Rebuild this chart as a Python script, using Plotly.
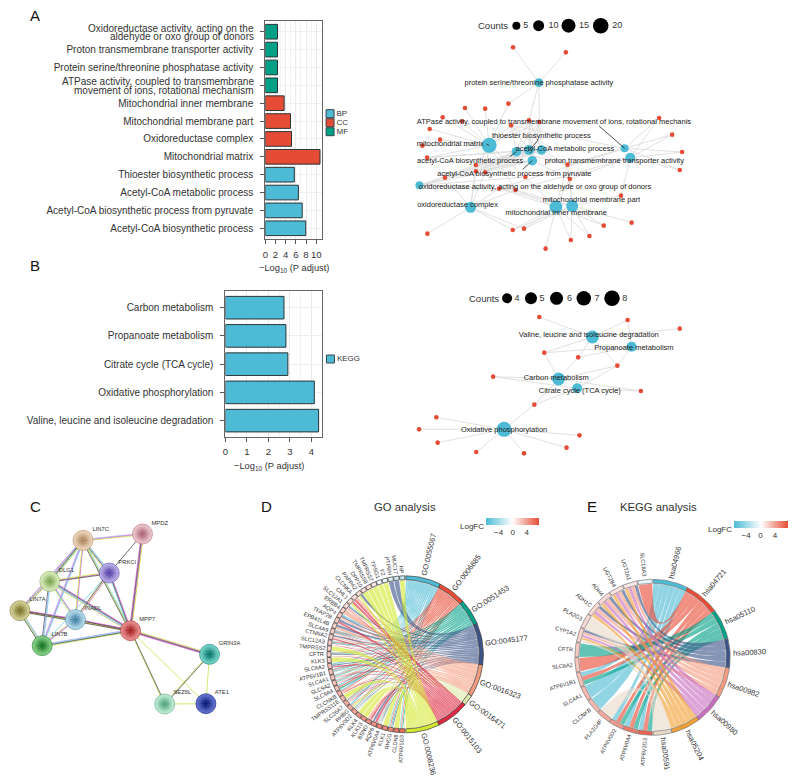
import math
import plotly.graph_objects as go

W, H = 793, 779
FONT = "Liberation Sans"
TXT = "#333333"

# ---------- Panel A bars ----------
go_terms = ["Acetyl-CoA biosynthetic process", "Acetyl-CoA biosynthetic process from pyruvate",
            "Acetyl-CoA metabolic process", "Thioester biosynthetic process", "Mitochondrial matrix",
            "Oxidoreductase complex", "Mitochondrial membrane part", "Mitochondrial inner membrane",
            "ATPase activity, coupled to transmembrane|movement of ions, rotational mechanism",
            "Protein serine/threonine phosphatase activity", "Proton transmembrane transporter activity",
            "Oxidoreductase activity, acting on the|aldehyde or oxo group of donors"]
go_values = [7.95, 7.25, 6.5, 5.7, 10.75, 5.15, 4.95, 3.7, 2.4, 2.4, 2.4, 2.4]
go_class = ["BP", "BP", "BP", "BP", "CC", "CC", "CC", "CC", "MF", "MF", "MF", "MF"]
class_names = ["BP", "CC", "MF"]
# ---------- Panel B bars ----------
kegg_terms = ["Valine, leucine and isoleucine degradation", "Oxidative phosphorylation",
              "Citrate cycle (TCA cycle)", "Propanoate metabolism", "Carbon metabolism"]
kegg_values = [4.33, 4.13, 2.9, 2.81, 2.72]

# ---------- Network A (layout, 3x crop coordinates) ----------
neta_hubs = [(414, 248), (264, 436), (346, 455), (384, 450), (422, 450), (394, 482),
             (672, 445), (689, 473), (54, 556), (208, 622), (465, 621), (514, 618)]
neta_hub_size = [8.7, 15, 9.5, 10, 9.5, 9.5, 8, 10, 8, 11, 13, 12]
neta_genes = [(336, 142), (495, 157), (322, 311), (191, 324), (252, 326), (124, 352), (182, 364), (330, 376),
              (384, 361), (415, 366), (85, 387), (116, 419), (63, 437), (77, 473), (224, 495), (252, 517),
              (224, 514), (131, 533), (294, 566), (343, 570), (373, 531), (500, 494), (507, 537), (661, 587),
              (776, 354), (815, 404), (845, 456), (838, 510), (78, 701), (335, 690), (369, 686), (434, 746),
              (510, 720), (566, 708), (609, 677), (693, 668)]
neta_links = [[0, 1, 2, 9, 8],
              [3, 4, 5, 6, 7, 8, 9, 10, 11, 12, 13, 14, 15, 16, 2, 20, 19],
              [8, 9, 7, 14, 15, 16, 17, 21],
              [8, 9, 7, 14, 15, 16, 17, 21, 13],
              [8, 9, 7, 14, 15, 16, 17, 21, 13],
              [8, 9, 14, 15, 16, 17, 22],
              [24, 25, 26, 27, 21, 18, 7],
              [24, 25, 26, 27, 21, 23, 19, 22],
              [17, 14, 15, 16, 18, 19, 20],
              [28, 29, 30, 18, 19, 17, 16, 15, 14],
              [29, 30, 31, 32, 33, 34, 21, 22, 18, 19, 20],
              [29, 30, 32, 33, 34, 35, 21, 22, 23, 18, 19]]
neta_labels = ["protein serine/threonine phosphatase activity",
               "ATPase activity, coupled to transmembrane movement of ions, rotational mechanis",
               "thioester biosynthetic process", "mitochondrial matrix", "acetyl-CoA metabolic process",
               "acetyl-CoA biosynthetic process", "proton transmembrane transporter activity",
               "acetyl-CoA biosynthetic process from pyruvate",
               "oxidoreductase activity, acting on the aldehyde or oxo group of donors",
               "oxidoreductase complex", "mitochondrial membrane part", "mitochondrial inner membrane"]
neta_label_xy = [(414, 248), (459, 365), (421, 408), (147, 431), (492, 446), (207, 484), (641, 484),
                 (340, 522), (402, 560), (169, 616), (572, 601), (466, 640)]
neta_leaders = [((595, 378), (672, 445)), ((256, 432), (264, 436)), ((327, 470), (346, 455)),
                ((365, 508), (394, 482)), ((412, 420), (380, 455))]
neta_count_vals = ["5", "10", "15", "20"]
neta_count_xy = [(346, 77), (413, 77), (503, 77), (600, 77)]
neta_count_size = [8, 11, 14, 15.5]
neta_count_txt_x = [374, 458, 550, 650]

# ---------- Network B ----------
netb_hubs = [(575, 171), (693, 200), (473, 297), (529, 325), (309, 448)]
netb_hub_size = [13, 10, 13, 10, 15]
netb_genes = [(415, 111), (681, 120), (838, 146), (430, 218), (532, 232), (650, 257), (276, 290), (721, 333),
              (400, 374), (105, 412), (53, 448), (109, 488), (225, 516), (369, 520), (497, 503), (536, 466)]
netb_links = [[0, 1, 2, 3, 4, 5], [1, 3, 4, 5], [3, 4, 5, 6, 7, 8], [5, 6, 7, 8],
              [8, 9, 10, 11, 12, 13, 14, 15]]
netb_labels = ["Valine, leucine and isoleucine degradation", "Propanoate metabolism", "Carbon metabolism",
               "Citrate cycle (TCA cycle)", "Oxidative phosphorylation"]
netb_label_xy = [(564, 166), (700, 204), (466, 293), (537, 332), (309, 449)]
netb_count_vals = ["4", "5", "6", "7", "8"]
netb_count_xy = [(318, 55), (390, 55), (467, 55), (549, 55), (634, 55)]
netb_count_size = [10, 12, 13, 14.5, 15.5]
netb_count_txt_x = [348, 423, 506, 589, 672]

# ---------- Panel C protein network ----------
ppi_names = ["LIN7C", "MPDZ", "PRKCI", "DLG1", "LIN7A", "INADL", "MPP7", "LIN7B", "GRIN3A", "SEZ6L", "ATE1"]
ppi_xy = [(241, 151), (420, 132), (320, 249), (141, 274), (51, 362), (218, 389), (384, 422), (118, 467),
          (622, 493), (487, 642), (611, 641)]
ppi_light = ["#f2dcc4", "#f2d0d6", "#c4b8ee", "#e2f2c4", "#dcd8a0", "#c0e2f2", "#f09a9a", "#90d890",
             "#80dcd0", "#c8f2dc", "#6a7ad8"]
ppi_dark = ["#b08a60", "#b06a78", "#5a4aa8", "#80a858", "#807830", "#4a88a8", "#a82828", "#1f7a28",
            "#107a72", "#58a880", "#101f78"]
ppi_label_xy = [(294, 118), (472, 101), (374, 217), (191, 242), (104, 330), (271, 357), (434, 390), (170, 435),
                (682, 461), (540, 609), (659, 608)]
ppi_edges = [("LIN7C", "MPDZ", "bmy"), ("MPDZ", "PRKCI", "k"), ("MPDZ", "MPP7", "ymkm"), ("LIN7C", "PRKCI", "cbky"),
             ("LIN7C", "DLG1", "yckmb"), ("LIN7C", "LIN7A", "ycm"), ("LIN7C", "LIN7B", "cmb"), ("LIN7C", "INADL", "my"),
             ("LIN7C", "MPP7", "cyk"), ("DLG1", "PRKCI", "ymk"), ("DLG1", "LIN7A", "ybm"), ("DLG1", "INADL", "mcy"),
             ("DLG1", "LIN7B", "cbk"), ("DLG1", "MPP7", "mkcby"), ("PRKCI", "INADL", "myk"), ("PRKCI", "MPP7", "mkc"),
             ("INADL", "LIN7B", "bmy"), ("INADL", "MPP7", "mky"), ("LIN7A", "LIN7B", "bcyk"), ("LIN7A", "INADL", "mky"),
             ("LIN7A", "MPP7", "myk"), ("LIN7B", "MPP7", "bcky"), ("LIN7B", "PRKCI", "c"), ("MPP7", "GRIN3A", "ymkm"),
             ("MPP7", "SEZ6L", "ky"), ("MPP7", "ATE1", "y"), ("GRIN3A", "SEZ6L", "ky"), ("GRIN3A", "ATE1", "y"),
             ("SEZ6L", "ATE1", "y")]
ppi_channel = {"m": "#d848d8", "c": "#60d0e0", "y": "#c4e040", "k": "#444444", "b": "#a8a8f0"}

# ---------- Panel D GO chord ----------
d_terms = ["GO:0055067", "GO:0006885", "GO:0051453", "GO:0045177", "GO:0016323", "GO:0016471", "GO:0015103", "GO:0008236"]
d_term_edges = [0.5, 26.7, 47.4, 67, 97.8, 122, 130, 154.4, 179.5]
d_term_colors = ["#4DBBD5", "#E64B35", "#00A087", "#3C5488", "#F39B7F", "#DCE8A8", "#DC2840", "#D4E830"]
d_genes = ["ATP6V1G3", "CLDN8", "RHCG", "KLK1", "ATP6V0A4", "AQP6", "BSND", "KLK13", "KLK4", "ATP6V0D2", "RHBG",
           "SLC26A7", "TMPRSS11E", "CLCNKB", "SLC9A4", "SLC9A2", "SLC4A1", "ATP6V1B1", "SLC6A2", "KLK3", "CFTR",
           "TMPRSS2", "SLC12A3", "CTNNA2", "SLC4A9", "EPB41L4B", "TFAP2B", "AQP4", "ERBB4", "SLC12A1", "CHL1",
           "CLCNKA", "PAPPA2", "DPP10", "TMPRSS8", "TMPRSS7", "TPSG1", "F2", "PTPRH", "MUC17", "HP"]
d_logfc = [6, 5.5, 5, 5, 5, 4.5, 4.5, 4.5, 4.5, 4, 3.5, 3.5, 3, 3, 2.5, 2.5, 2.5, 2.5, 2.5, 2, 2, 2, 2, 2, 2, 2, 2, 2, 2,
           1.5, 1.5, 1.5, 1.5, 1.5, 1.5, 1, -0.5, -1, -1.5, -2, -2.5]
d_members = [
    ["SLC4A1", "SLC9A2", "SLC9A4", "SLC26A7", "ATP6V1B1", "ATP6V0D2", "ATP6V0A4", "ATP6V1G3", "SLC12A3", "SLC4A9",
     "SLC12A1", "CFTR", "AQP4", "RHCG", "RHBG", "CLCNKB", "SLC6A2"],
    ["SLC4A1", "SLC9A2", "SLC9A4", "SLC26A7", "ATP6V1B1", "ATP6V0D2", "ATP6V0A4", "ATP6V1G3", "SLC4A9", "CFTR", "RHCG",
     "SLC12A3", "CLCNKB"],
    ["SLC4A1", "SLC9A2", "SLC9A4", "SLC26A7", "ATP6V1B1", "ATP6V0D2", "ATP6V0A4", "ATP6V1G3", "SLC4A9", "CFTR", "RHCG",
     "SLC12A3"],
    ["MUC17", "PTPRH", "CFTR", "SLC12A3", "SLC12A1", "AQP4", "CTNNA2", "EPB41L4B", "TFAP2B", "ATP6V1B1", "SLC6A2",
     "SLC9A2", "SLC4A9", "PAPPA2", "SLC26A7", "ATP6V0A4", "ATP6V0D2", "RHCG", "AQP6"],
    ["ERBB4", "AQP4", "SLC4A9", "EPB41L4B", "SLC26A7", "RHBG", "CFTR", "CLCNKA", "CLCNKB", "BSND", "SLC4A1", "SLC12A1",
     "CTNNA2", "SLC9A2", "SLC12A3"],
    ["ATP6V1B1", "ATP6V0D2", "ATP6V0A4", "ATP6V1G3"],
    ["CLCNKA", "CLCNKB", "SLC12A1", "SLC12A3", "SLC4A1", "SLC26A7", "SLC4A9", "BSND", "CFTR", "AQP6", "CHL1", "SLC6A2",
     "SLC9A2", "TFAP2B", "CTNNA2"],
    ["HP", "F2", "TPSG1", "TMPRSS7", "TMPRSS8", "DPP10", "PAPPA2", "KLK1", "KLK3", "KLK4", "KLK13", "TMPRSS2",
     "TMPRSS11E", "CLDN8", "RHBG", "CHL1"],
]

# ---------- Panel E KEGG chord ----------
e_terms = ["hsa04966", "hsa04721", "hsa05110", "hsa00830", "hsa00982", "hsa00980", "hsa05204", "hsa00591"]
e_term_edges = [0.5, 26.7, 53.2, 76, 98, 120.7, 143.5, 165.5, 179.5]
e_term_colors = ["#4DBBD5", "#E64B35", "#00A087", "#3C5488", "#F39B7F", "#C86CC0", "#F0A030", "#E8D8C8"]
e_genes = ["ATP6V1G3", "ATP6V0A4", "ATP6V0D2", "PLA2G4F", "CLCNKB", "SLC4A1", "ATP6V1B1", "SLC6A2", "CFTR", "CYP1A2",
           "PLA2G3", "ADH1C", "ADH4", "UGT2B4", "UGT2A1", "SLC18A3"]
e_logfc = [6.5, 5.5, 4.2, 3.6, 3, 3, 2.6, 2.4, 2.2, 1.8, 1.6, 1.6, 1.6, 1.2, 1, -1]
e_members = [
    ["ATP6V1G3", "ATP6V0A4", "ATP6V0D2", "ATP6V1B1", "SLC4A1", "CLCNKB"],
    ["ATP6V1G3", "ATP6V0A4", "ATP6V0D2", "ATP6V1B1", "SLC6A2", "SLC18A3"],
    ["ATP6V1G3", "ATP6V0A4", "ATP6V0D2", "ATP6V1B1", "CFTR"],
    ["CYP1A2", "ADH1C", "ADH4", "UGT2B4", "UGT2A1"],
    ["CYP1A2", "ADH1C", "ADH4", "UGT2B4", "UGT2A1"],
    ["CYP1A2", "ADH1C", "ADH4", "UGT2B4", "UGT2A1"],
    ["CYP1A2", "ADH1C", "ADH4", "UGT2B4", "UGT2A1"],
    ["CYP1A2", "PLA2G3", "PLA2G4F"],
]

# ---------- figure ----------
fig = go.Figure()
OV = dict(xaxis="x3", yaxis="y3")


def pxa(p):
    return 400 + p[0] / 3, p[1] / 3


def pxb(p):
    return 400 + p[0] / 3, 280 + p[1] / 3


def pxc(p):
    return p[0] / 3, 490 + p[1] / 3


def dom_x(a, b):
    return [a / W, b / W]


def dom_y(top, bottom):
    return [1 - bottom / H, 1 - top / H]


# bars
class_color = {"BP": "#4DBBD5", "CC": "#E64B35", "MF": "#00A087"}
fig.add_trace(go.Bar(x=go_values, y=go_terms, orientation="h", width=0.82,
                     marker=dict(color=[class_color[c] for c in go_class], line=dict(color="#2c3438", width=1)),
                     xaxis="x", yaxis="y"))
fig.add_trace(go.Bar(x=kegg_values, y=kegg_terms, orientation="h", width=0.8,
                     marker=dict(color="#4DBBD5", line=dict(color="#2c3438", width=1)),
                     xaxis="x2", yaxis="y2"))


def bar_axes(xdom, ydom, xr, yr, dt, mdt, cats, standoff):
    xa = dict(domain=xdom, range=xr, dtick=dt, tick0=0, showgrid=True, gridcolor="#e9e9e9", gridwidth=1,
              minor=dict(dtick=mdt, showgrid=True, gridcolor="#f3f3f3", gridwidth=0.7),
              showline=True, mirror=True, linecolor="#666666", linewidth=1.2, ticks="outside", ticklen=4,
              tickcolor="#555555", tickwidth=0.8, tickfont=dict(size=9.5, color=TXT, family=FONT),
              ticklabelstandoff=standoff, zeroline=False)
    ya = dict(domain=ydom, range=yr, type="category", categoryorder="array", categoryarray=cats, showgrid=True,
              gridcolor="#efefef", showline=True, mirror=True, linecolor="#666666", linewidth=1.2, ticks="outside",
              ticklen=4, tickcolor="#555555", tickwidth=0.8, tickfont=dict(size=10, color=TXT, family=FONT),
              tickmode="array", tickvals=cats, ticktext=[c if "|" not in c else " " for c in cats],
              ticklabelstandoff=5, zeroline=False)
    return xa, ya


xa1, ya1 = bar_axes(dom_x(263.3, 320), dom_y(21, 239), [0, 11.1], [-0.6, 11.6], 2, 1, go_terms, 2)
xa2, ya2 = bar_axes(dom_x(223.3, 320.7), dom_y(291.3, 437), [0, 4.51], [-0.58, 4.58], 1, 0.5, kegg_terms, 1)
ya2["anchor"] = "x2"
xa2["anchor"] = "y2"

ann = []


def note(x, y, s, size=8, color=TXT, angle=0, anchor="center"):
    ann.append(dict(x=x, y=y, xref="x3", yref="y3", text=s, showarrow=False, textangle=angle,
                    font=dict(size=size, color=color, family=FONT), xanchor=anchor, yanchor="middle"))


# two-line category labels are set with the tight leading of the reference
for term, ys in [(go_terms[11], (28, 36.7)), (go_terms[8], (81.7, 90.3))]:
    for line, y in zip(term.split("|"), ys):
        note(254.2, y, line, 10, TXT, 0, "right")

note(291.7, 268, "−Log<sub>10</sub> (P adjust)", 9.3)
note(266.7, 466.7, "−Log<sub>10</sub> (P adjust)", 9.3)

# bar legends
for names, xs, ys, colors in [(class_names, [328.3] * 3, [113.7, 122.7, 131.7], [class_color[c] for c in class_names]),
                              (["KEGG"], [328.7], [359], ["#4DBBD5"])]:
    fig.add_trace(go.Scatter(x=xs, y=ys, mode="markers", marker=dict(symbol="square", size=8, color=colors, opacity=1,
                             line=dict(color="#3a4448", width=1)), **OV))
    fig.add_trace(go.Scatter(x=[x + 6.5 for x in xs], y=ys, mode="text", text=names, textposition="middle right",
                             textfont=dict(size=8, color=TXT, family=FONT), **OV))


def network(hubs, hub_size, genes, links, labels, label_xy, to_px, leaders, cnt_xy, cnt_size, cnt_vals, cnt_tx, cnt_label_x):
    ex, ey = [], []
    for h, ls in zip(hubs, links):
        a = to_px(h)
        for i in ls:
            b = to_px(genes[i])
            ex += [a[0], b[0], None]
            ey += [a[1], b[1], None]
    fig.add_trace(go.Scatter(x=ex, y=ey, mode="lines", line=dict(color="#dddddd", width=0.9), **OV))
    hp = [to_px(p) for p in hubs]
    gp = [to_px(p) for p in genes]
    fig.add_trace(go.Scatter(x=[p[0] for p in gp], y=[p[1] for p in gp], mode="markers",
                             marker=dict(size=4.6, color="#E64B35", opacity=1, line=dict(width=0)), **OV))
    fig.add_trace(go.Scatter(x=[p[0] for p in hp], y=[p[1] for p in hp], mode="markers",
                             marker=dict(size=hub_size, color="#4DBBD5", opacity=1, line=dict(width=0)), **OV))
    lx, ly = [], []
    for a, b in leaders:
        pa, pb = to_px(a), to_px(b)
        lx += [pa[0], pb[0], None]
        ly += [pa[1], pb[1], None]
    if lx:
        fig.add_trace(go.Scatter(x=lx, y=ly, mode="lines", line=dict(color="#222222", width=0.8), **OV))
    lp = [to_px(p) for p in label_xy]
    fig.add_trace(go.Scatter(x=[p[0] for p in lp], y=[p[1] for p in lp], mode="text", text=labels,
                             textposition="middle center", textfont=dict(size=7.5, color="#222222", family=FONT), **OV))
    cp = [to_px(p) for p in cnt_xy]
    fig.add_trace(go.Scatter(x=[p[0] for p in cp], y=[p[1] for p in cp], mode="markers",
                             marker=dict(size=cnt_size, color="#000000", opacity=1, line=dict(width=0)), **OV))
    ct = [to_px((x, cnt_xy[0][1])) for x in cnt_tx]
    fig.add_trace(go.Scatter(x=[p[0] for p in ct], y=[p[1] for p in ct], mode="text", text=cnt_vals,
                             textposition="middle center", textfont=dict(size=9, color=TXT, family=FONT), **OV))
    px = to_px((cnt_label_x, cnt_xy[0][1]))
    note(px[0], px[1], "Counts", 9.5)


network(neta_hubs, neta_hub_size, neta_genes, neta_links, neta_labels, neta_label_xy, pxa, neta_leaders,
        neta_count_xy, neta_count_size, neta_count_vals, neta_count_txt_x, 276)
network(netb_hubs, netb_hub_size, netb_genes, netb_links, netb_labels, netb_label_xy, pxb, [],
        netb_count_xy, netb_count_size, netb_count_vals, netb_count_txt_x, 247)

# protein network
pos = {n: pxc(p) for n, p in zip(ppi_names, ppi_xy)}
chan_seg = {k: ([], []) for k in ppi_channel}
SP = 0.75
for a, b, chans in ppi_edges:
    (x0, y0), (x1, y1) = pos[a], pos[b]
    L = math.hypot(x1 - x0, y1 - y0)
    nx, ny = -(y1 - y0) / L, (x1 - x0) / L
    for k, c in enumerate(chans):
        off = (k - (len(chans) - 1) / 2) * SP
        chan_seg[c][0].extend([x0 + nx * off, x1 + nx * off, None])
        chan_seg[c][1].extend([y0 + ny * off, y1 + ny * off, None])
for c, (xs, ys) in chan_seg.items():
    fig.add_trace(go.Scatter(x=xs, y=ys, mode="lines", line=dict(color=ppi_channel[c], width=0.75), **OV))
for n, lc, dc in zip(ppi_names, ppi_light, ppi_dark):
    fig.add_trace(go.Scatter(x=[pos[n][0]], y=[pos[n][1]], mode="markers",
                             marker=dict(size=20, color=lc, gradient=dict(type="radial", color=dc),
                                         line=dict(color=dc, width=0.6)), **OV))
    fig.add_trace(go.Scatter(x=[pos[n][0]], y=[pos[n][1]], mode="markers",
                             marker=dict(size=8, symbol="asterisk-open", color=dc, line=dict(color=dc, width=0.8)), **OV))
lp = [pxc(p) for p in ppi_label_xy]
fig.add_trace(go.Scatter(x=[p[0] for p in lp], y=[p[1] for p in lp], mode="text", text=ppi_names,
                         textposition="middle center", textfont=dict(size=5.8, color="#333333", family=FONT), **OV))


# chords
def text_w(s, size):
    w = 0
    for ch in s:
        if ch.isupper():
            w += 0.68
        elif ch.isdigit():
            w += 0.556
        elif ch == ":":
            w += 0.278
        else:
            w += 0.5
    return w * size


def polar(cx, cy, r, deg):
    t = math.radians(deg)
    return cx + r * math.sin(t), cy - r * math.cos(t)


def hexrgb(h):
    h = h.lstrip("#")
    return [int(h[i:i + 2], 16) for i in (0, 2, 4)]


LOW, MID, HIGH = hexrgb("#4DBBD5"), hexrgb("#FFFFFF"), hexrgb("#E64B35")


def fc_color(v, vmax=7.5):
    t = max(-1, min(1, v / vmax))
    end = HIGH if t > 0 else LOW
    a = abs(t)
    return "rgb(%d,%d,%d)" % tuple(round(MID[i] + (end[i] - MID[i]) * a) for i in range(3))


def arc(cx, cy, r, a, b, n=10):
    return [polar(cx, cy, r, a + (b - a) * i / n) for i in range(n + 1)]


def ring(cx, cy, r0, r1, a, b, color, line):
    pts = arc(cx, cy, r1, a, b) + arc(cx, cy, r0, b, a)
    pts.append(pts[0])
    fig.add_trace(go.Scatter(x=[p[0] for p in pts], y=[p[1] for p in pts], mode="lines", fill="toself",
                             fillcolor=color, line=dict(color=line, width=0.7), **OV))


def bez(p0, c, p1, n=24):
    out = []
    for i in range(1, n):
        t = i / n
        out.append(((1 - t) ** 2 * p0[0] + 2 * t * (1 - t) * c[0] + t ** 2 * p1[0],
                    (1 - t) ** 2 * p0[1] + 2 * t * (1 - t) * c[1] + t ** 2 * p1[1]))
    return out


def chord(cx, cy, R, terms, edges, tcolors, genes, logfc, members, cax, alpha, ringline):
    Ri = R - 4
    n = len(genes)
    gw = 180 / n
    gspan = {g: (180 + i * gw, 180 + (i + 1) * gw) for i, g in enumerate(genes)}
    links_per_gene = {g: [] for g in genes}
    for ti, m in enumerate(members):
        for g in m:
            links_per_gene[g].append(ti)
    for ti, (term, m) in enumerate(zip(terms, members)):
        a0, a1 = edges[ti], edges[ti + 1]
        w = (a1 - a0) / len(m)
        ordered = sorted(m, key=lambda g: -genes.index(g))
        rgb = hexrgb(tcolors[ti])
        fill = "rgba(%d,%d,%d,%.2f)" % (rgb[0], rgb[1], rgb[2], alpha)
        for k, g in enumerate(ordered):
            ta, tb = a0 + k * w + 0.03, a0 + (k + 1) * w - 0.03
            ls = sorted(links_per_gene[g], reverse=True)
            sw = (gspan[g][1] - gspan[g][0] - 0.5) / len(ls)
            j = ls.index(ti)
            ga = gspan[g][0] + 0.25 + j * sw + 0.03
            gb = ga + sw - 0.06
            c = (cx, cy)
            A = arc(cx, cy, Ri - 0.6, ta, tb, 4)
            B = arc(cx, cy, Ri - 0.6, ga, gb, 4)
            pts = A + bez(A[-1], c, B[0]) + B + bez(B[-1], c, A[0])
            pts.append(pts[0])
            fig.add_trace(go.Scatter(x=[p[0] for p in pts], y=[p[1] for p in pts], mode="lines", fill="toself",
                                     fillcolor=fill, line=dict(width=0), **OV))
    for ti, term in enumerate(terms):
        a0, a1 = edges[ti], edges[ti + 1]
        ring(cx, cy, Ri, R, a0, a1, tcolors[ti], ringline)
        mid = (a0 + a1) / 2
        tw = text_w(term, 7.5)
        p = polar(cx, cy, R + 3 + tw / 2, mid)
        note(p[0], p[1], term, 7.5, "#333333", mid - 90)
    for g, v in zip(genes, logfc):
        a, b = gspan[g]
        ring(cx, cy, Ri, R, a + 0.25, b - 0.25, fc_color(v), ringline)
        mid = (a + b) / 2
        tw = text_w(g, 5.6)
        p = polar(cx, cy, R + 2.5 + tw / 2, mid)
        note(p[0], p[1], g, 5.6, "#333333", mid - 270)
    # invisible carrier of the LogFC colour bar
    mids = [polar(cx, cy, R - 2, (gspan[g][0] + gspan[g][1]) / 2) for g in genes]
    fig.add_trace(go.Scatter(x=[p[0] for p in mids], y=[p[1] for p in mids], mode="markers",
                             marker=dict(size=1, color=logfc, coloraxis=cax), **OV))


chord(403.7, 654.3, 78.5, d_terms, d_term_edges, d_term_colors, d_genes, d_logfc, d_members, "coloraxis", 0.62, "#3a3a3a")
chord(652, 657.3, 78, e_terms, e_term_edges, e_term_colors, e_genes, e_logfc, e_members, "coloraxis2", 0.62, "#777777")

note(403.3, 506.7, "GO analysis", 11.3)
note(657.7, 506.7, "KEGG analysis", 11.3)
note(470.5, 526.7, "LogFC", 8)
note(719.5, 529, "LogFC", 8)
for s, x, y in [("A", 32, 15), ("B", 32, 265), ("C", 32.3, 506), ("D", 264, 506.7), ("E", 591, 506.7)]:
    note(x, y, s, 15, "#111111")


def cb(x0, x1, y0):
    return dict(orientation="h", x=x0 / W, xanchor="left", y=1 - y0 / H, yanchor="top", thickness=7,
                thicknessmode="pixels", len=x1 - x0, lenmode="pixels", xpad=0, ypad=0, outlinewidth=0,
                tickvals=[-4, 0, 4], ticktext=["−4", "0", "4"], ticks="", tickfont=dict(size=8, color=TXT, family=FONT))


scale = [[0, "#4DBBD5"], [0.5, "#FFFFFF"], [1, "#E64B35"]]
fig.update_layout(
    width=W, height=H, margin=dict(l=0, r=0, t=0, b=0), paper_bgcolor="white", plot_bgcolor="rgba(0,0,0,0)",
    showlegend=False, barmode="overlay", font=dict(family=FONT, color=TXT), annotations=ann,
    xaxis=xa1, yaxis=ya1, xaxis2=xa2, yaxis2=ya2,
    xaxis3=dict(domain=[0, 1], range=[0, W], visible=False, anchor="y3", fixedrange=True),
    yaxis3=dict(domain=[0, 1], range=[H, 0], visible=False, anchor="x3", fixedrange=True),
    coloraxis=dict(colorscale=scale, cmin=-7.5, cmax=7.5, colorbar=cb(485, 537.7, 518)),
    coloraxis2=dict(colorscale=scale, cmin=-7.5, cmax=7.5, colorbar=cb(733.3, 787.3, 521)),
)
fig.write_html("out.html", config={"displayModeBar": False},
               post_script="document.body.style.margin='0';document.body.style.overflow='hidden';")
